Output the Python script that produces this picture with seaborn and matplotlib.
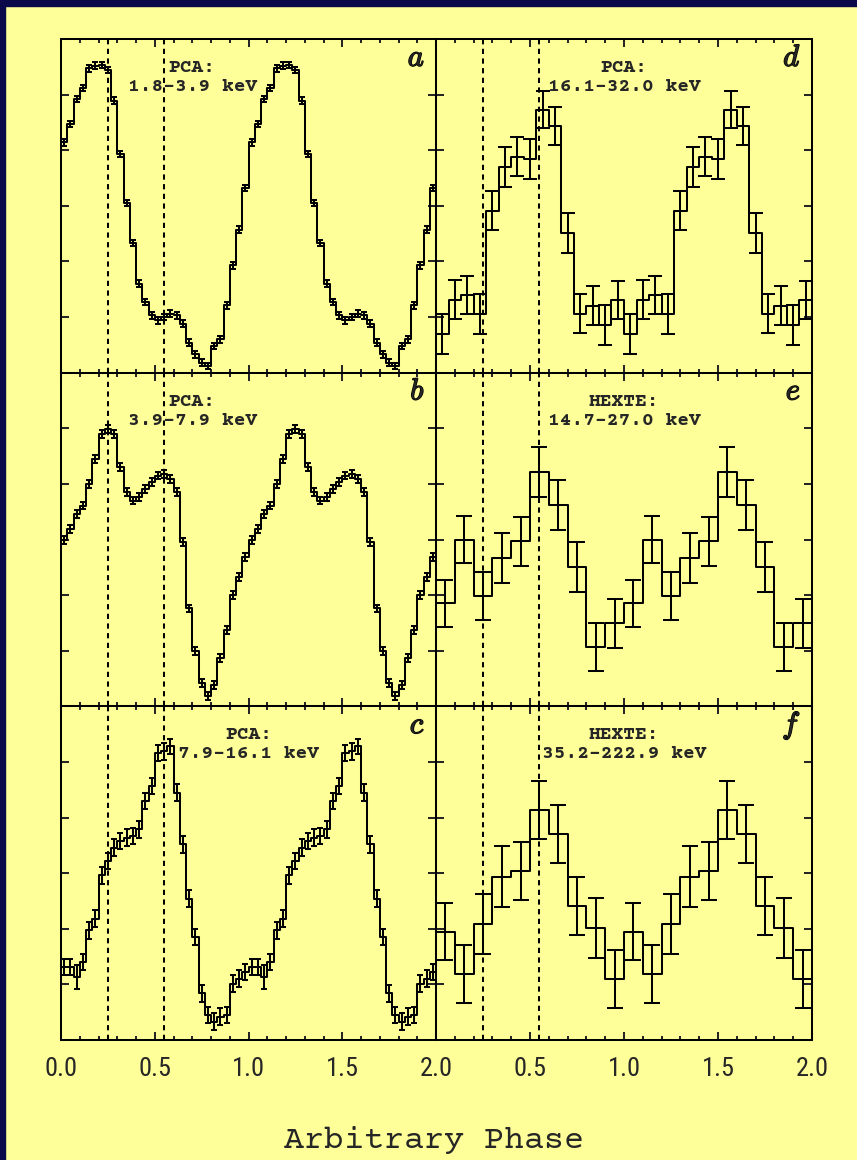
import numpy as np
import pandas as pd
import matplotlib
matplotlib.use("Agg")
import matplotlib.pyplot as plt
import seaborn as sns
from matplotlib.ticker import MultipleLocator, FuncFormatter
import matplotlib.patheffects as pe
from matplotlib.patches import Rectangle

# ---------------- data (one pulse cycle, shown twice) ----------------
pca_a = [4.14, 4.47, 4.92, 5.12, 5.47, 5.52, 5.53, 5.44, 4.89, 3.93,
         3.05, 2.33, 1.60, 1.27, 1.03, 0.94, 1.00, 1.06, 1.03, 0.88,
         0.54, 0.33, 0.18, 0.12, 0.48, 0.60, 1.21, 1.93, 2.57, 3.32]
err_a = [0.06] * 30

pca_b = [2.99, 3.19, 3.46, 3.61, 4.00, 4.45, 4.90, 4.99, 4.90, 4.30,
         3.85, 3.70, 3.76, 3.91, 4.03, 4.15, 4.18, 4.09, 3.85, 2.96,
         1.76, 0.99, 0.42, 0.18, 0.39, 0.87, 1.37, 2.00, 2.33, 2.69]
err_b = [0.07] * 30

pca_c = [1.31, 1.31, 1.13, 1.40, 1.97, 2.18, 2.96, 3.22, 3.46, 3.58,
         3.64, 3.67, 3.79, 4.30, 4.57, 5.16, 5.19, 5.28, 4.45, 3.52,
         2.54, 1.85, 0.84, 0.45, 0.33, 0.42, 0.45, 1.01, 1.10, 1.22]
err_c = [0.15, 0.15, 0.22, 0.15, 0.15, 0.15, 0.15, 0.15, 0.15, 0.15,
         0.15, 0.15, 0.15, 0.15, 0.15, 0.15, 0.15, 0.14, 0.15, 0.15,
         0.15, 0.15, 0.15, 0.15, 0.15, 0.15, 0.15, 0.15, 0.15, 0.15]

pca_d = [0.69, 1.31, 1.39, 1.06, 2.91, 3.70, 3.88, 3.85, 4.73, 4.43,
         2.52, 1.06, 1.20, 0.85, 1.31]
err_d = [0.36, 0.35, 0.34, 0.36, 0.35, 0.36, 0.35, 0.36, 0.33, 0.34,
         0.36, 0.35, 0.35, 0.36, 0.34]

hexte_e = [1.85, 3.00, 1.99, 2.67, 2.97, 4.22, 3.62, 2.50, 1.06, 1.49]
err_e = [0.43, 0.43, 0.43, 0.45, 0.44, 0.45, 0.45, 0.45, 0.43, 0.44]

hexte_f = [1.95, 1.19, 2.08, 2.94, 3.04, 4.13, 3.70, 2.41, 2.01, 1.09]
err_f = [0.52, 0.52, 0.54, 0.54, 0.52, 0.52, 0.52, 0.53, 0.54, 0.52]

panel_letters = ["a", "b", "c", "d", "e", "f"]
panel_titles = ["PCA:", "PCA:", "PCA:", "PCA:", "HEXTE:", "HEXTE:"]
panel_bands = ["1.8\u20133.9 keV", "3.9\u20137.9 keV", "7.9\u201316.1 keV",
               "16.1\u201332.0 keV", "14.7\u201327.0 keV", "35.2\u2013222.9 keV"]
marker_phases = [0.25, 0.55]
x_label = "Arbitrary Phase"

# ---------------- style ----------------
YELLOW = "#FFFF99"
NAVY = "#0A0A4A"
LW = 1.45
TYPE_FONT = ["Courier Prime", "Liberation Mono", "DejaVu Sans Mono"]
TICK_FONT = ["Roboto Condensed", "Archivo Narrow", "DejaVu Sans"]

sns.set_style("ticks")
plt.rcParams["font.family"] = TYPE_FONT
plt.rcParams["mathtext.fontset"] = "cm"

W, H = 857, 1160
fig = plt.figure(figsize=(W / 100, H / 100), dpi=100, facecolor=YELLOW)
fig.patches.append(Rectangle((0, 1 - 6 / H), 1, 6 / H, transform=fig.transFigure,
                             color=NAVY, zorder=-5))
fig.patches.append(Rectangle((0, 0), 5 / W, 1, transform=fig.transFigure,
                             color=NAVY, zorder=-5))

x_left, x_mid, x_right = 61 / W, 436 / W, 812 / W
y_top, y_bot = 1 - 39 / H, 1 - 1040 / H
row_h = (y_top - y_bot) / 3
row_px = row_h * H
col_px = (x_mid - x_left) * W

panels = [
    (0, 0, pca_a, err_a, 2.5, 0.70),
    (1, 0, pca_b, err_b, 2.5, 0.70),
    (2, 0, pca_c, err_c, 2.5, 1.0),
    (0, 1, pca_d, err_d, 5.0, 1.0),
    (1, 1, hexte_e, err_e, 5.5, 1.0),
    (2, 1, hexte_f, err_f, 5.5, 1.0),
]

for i, (row, col, vals, errs, cap, tx) in enumerate(panels):
    x0 = x_left if col == 0 else x_mid
    w = (x_mid - x_left) if col == 0 else (x_right - x_mid)
    y0 = y_top - (row + 1) * row_h
    ax = fig.add_axes([x0, y0, w, row_h])
    ax.set_facecolor(YELLOW)

    n = len(vals)
    edges = np.linspace(0.0, 2.0, 2 * n + 1).tolist()
    centers = [0.5 * (edges[k] + edges[k + 1]) for k in range(2 * n)]
    rates = list(vals) + list(vals)
    errors = list(errs) + list(errs)
    df = pd.DataFrame({"phase": centers, "rate": rates})

    sns.histplot(data=df, x="phase", weights="rate", bins=edges, element="step",
                 fill=False, color="black", linewidth=LW, ax=ax)
    ax.errorbar(centers, rates, yerr=errors, fmt="none", ecolor="black",
                elinewidth=LW, capsize=cap, capthick=LW)

    for p in marker_phases:
        ax.axvline(p, color="black", lw=LW, ls=(0, (2.6, 2.2)), zorder=1)

    ax.set_xlim(0, 2)
    ax.set_ylim(0, 6)
    ax.set_xlabel("")
    ax.set_ylabel("")
    ax.set_yticks([1, 2, 3, 4, 5])
    ax.xaxis.set_major_locator(MultipleLocator(0.5))
    ax.xaxis.set_minor_locator(MultipleLocator(0.1))
    ax.tick_params(axis="both", which="major", direction="in", top=True, right=True,
                   length=6, width=LW, labelleft=False, labelsize=19, pad=12)
    ax.tick_params(axis="both", which="minor", direction="in", top=True, right=True,
                   length=3, width=LW)
    ax.tick_params(axis="y", which="minor", left=False, right=False)
    for s in ax.spines.values():
        s.set_linewidth(LW)
        s.set_color("black")

    if row == 2:
        if col == 1:
            ax.xaxis.set_major_formatter(FuncFormatter(
                lambda v, p: "" if abs(v) < 1e-9 else f"{v:.1f}"))
        else:
            ax.xaxis.set_major_formatter(FuncFormatter(lambda v, p: f"{v:.1f}"))
        for lab in ax.get_xticklabels():
            lab.set_family(TICK_FONT)
    else:
        ax.tick_params(axis="x", labelbottom=False)

    tr = ax.get_xaxis_transform()
    ax.text(tx, 1 - 29 / row_px, panel_titles[i], transform=tr, ha="center",
            va="center", fontsize=14, fontweight="bold")
    ax.text(tx, 1 - 48 / row_px, panel_bands[i], transform=tr, ha="center",
            va="center", fontsize=14, fontweight="bold")
    ax.text(1 - 11 / col_px, 1 - 27 / row_px, f"${panel_letters[i]}$",
            transform=ax.transAxes, ha="right", va="baseline", fontsize=22,
            path_effects=[pe.withStroke(linewidth=1.0, foreground="black")])

fig.text(434 / W, 1 - 1148 / H, x_label, ha="center", va="baseline", fontsize=24)

fig.savefig("out.png", dpi=100, facecolor=YELLOW)
